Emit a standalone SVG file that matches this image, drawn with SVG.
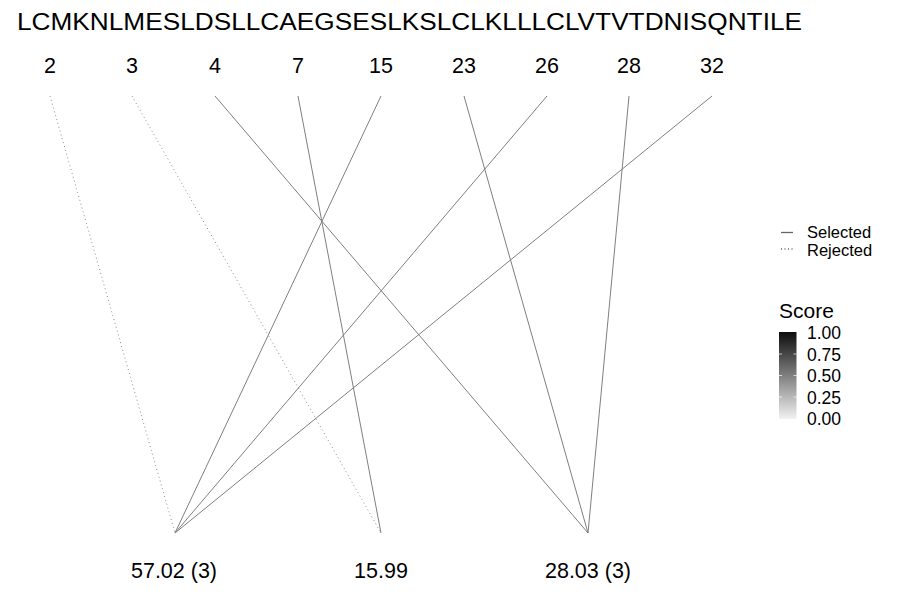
<svg xmlns="http://www.w3.org/2000/svg" width="900" height="600" viewBox="0 0 900 600">
<style>
text{font-family:"Liberation Sans",Arial,sans-serif;fill:#000}
.seq{font-size:23px}
.pos{font-size:21.5px;text-anchor:middle}
.mass{font-size:21.5px;text-anchor:middle}
.leg{font-size:17.5px}
.legk{font-size:16.5px}
.sel{stroke:#7f7f7f;stroke-width:1;fill:none}
.rej{stroke:#8f8f8f;stroke-width:1;stroke-dasharray:1 3;fill:none}
.legsel{stroke:#666;stroke-width:1.3;fill:none}
.legrej{stroke:#666;stroke-width:1.3;stroke-dasharray:1 2.5;fill:none}
</style>
<defs>
<linearGradient id="score" x1="0" y1="1" x2="0" y2="0">
<stop offset="0" stop-color="#f2f2f2"/>
<stop offset="1" stop-color="#0d0d0d"/>
</linearGradient>
</defs>
<rect width="900" height="600" fill="#fff"/>
<text class="seq" x="17" y="30" textLength="785" lengthAdjust="spacingAndGlyphs">LCMKNLMESLDSLLCAEGSESLKSLCLKLLLCLVTVTDNISQNTILE</text>
<g id="positions">
<g id="pos2"><text class="pos" x="50" y="73">2</text></g>
<g id="pos3"><text class="pos" x="132" y="73">3</text></g>
<g id="pos4"><text class="pos" x="215" y="73">4</text></g>
<g id="pos7"><text class="pos" x="298" y="73">7</text></g>
<g id="pos15"><text class="pos" x="381" y="73">15</text></g>
<g id="pos23"><text class="pos" x="464" y="73">23</text></g>
<g id="pos26"><text class="pos" x="547" y="73">26</text></g>
<g id="pos28"><text class="pos" x="629" y="73">28</text></g>
<g id="pos32"><text class="pos" x="712" y="73">32</text></g>
</g>
<g id="masses">
<g id="m5702"><text class="mass" x="174" y="578">57.02 (3)</text></g>
<g id="m1599"><text class="mass" x="381" y="578">15.99</text></g>
<g id="m2803"><text class="mass" x="588" y="578">28.03 (3)</text></g>
</g>
<g id="connectors">
<line class="rej" x1="50" y1="96" x2="175" y2="533"/>
<line class="rej" x1="132" y1="96" x2="381" y2="533"/>
<line class="sel" x1="215" y1="96" x2="588" y2="533"/>
<line class="sel" x1="298" y1="96" x2="381" y2="533"/>
<line class="sel" x1="381" y1="96" x2="175" y2="533"/>
<line class="sel" x1="464" y1="96" x2="588" y2="533"/>
<line class="sel" x1="547" y1="96" x2="175" y2="533"/>
<line class="sel" x1="629" y1="96" x2="588" y2="533"/>
<line class="sel" x1="712" y1="96" x2="175" y2="533"/>
</g>
<g id="legend-lines">
<line class="legsel" x1="781" y1="232.5" x2="793" y2="232.5"/>
<line class="legrej" x1="781" y1="249" x2="793" y2="249"/>
<text class="legk" x="807" y="237.5">Selected</text>
<text class="legk" x="807" y="255.5">Rejected</text>
</g>
<g id="legend-score">
<text x="779" y="318" style="font-size:21px">Score</text>
<rect x="779" y="332" width="17.5" height="87" fill="url(#score)"/>
<g stroke="#fff" stroke-width="1" opacity="0.7">
<line x1="779" y1="354" x2="782" y2="354"/><line x1="793.5" y1="354" x2="796.5" y2="354"/>
<line x1="779" y1="375.5" x2="782" y2="375.5"/><line x1="793.5" y1="375.5" x2="796.5" y2="375.5"/>
<line x1="779" y1="397" x2="782" y2="397"/><line x1="793.5" y1="397" x2="796.5" y2="397"/>
</g>
<text class="leg" x="807" y="339">1.00</text>
<text class="leg" x="807" y="360.5">0.75</text>
<text class="leg" x="807" y="382">0.50</text>
<text class="leg" x="807" y="403.5">0.25</text>
<text class="leg" x="807" y="425">0.00</text>
</g>
</svg>
